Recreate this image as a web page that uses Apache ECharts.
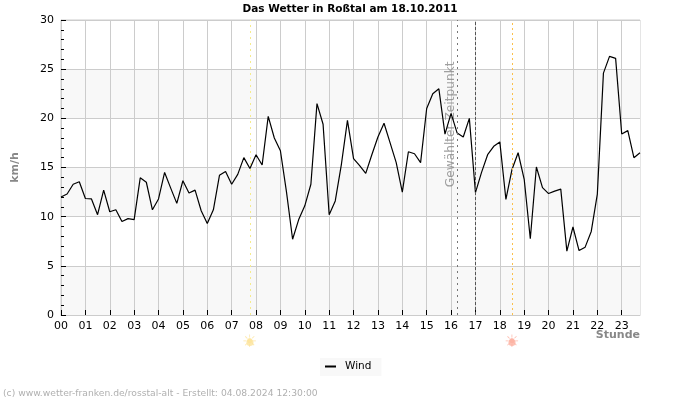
<!DOCTYPE html>
<html>
<head>
<meta charset="utf-8">
<style>
html, body { margin: 0; padding: 0; background: #fff; }
</style>
</head>
<body>
<div id="chart" style="width: 700px; height: 400px;"></div>
<script src="https://cdn.jsdelivr.net/npm/echarts@6/dist/echarts.min.js"></script>
<script>
const hours = ['00','01','02','03','04','05','06','07','08','09','10','11','12','13','14','15','16','17','18','19','20','21','22','23'];
const quarters = ['00','15','30','45'];
const wind = [
  12.0, 12.3, 13.3, 13.55, 11.85, 11.8, 10.2, 12.7,
  10.5, 10.7, 9.5, 9.8, 9.7, 13.95, 13.5, 10.7,
  11.8, 14.5, 12.9, 11.35, 13.65, 12.4, 12.7, 10.6,
  9.3, 10.7, 14.2, 14.6, 13.3, 14.3, 16.0, 14.9,
  16.3, 15.25, 20.2, 18.0, 16.7, 12.5, 7.7, 9.7,
  11.1, 13.3, 21.5, 19.4, 10.2, 11.6, 15.3, 19.8,
  15.9, 15.2, 14.4, 16.3, 18.1, 19.5, 17.5, 15.5,
  12.5, 16.6, 16.4, 15.5, 21.0, 22.5, 23.0, 18.4,
  20.5, 18.5, 18.1, 20.0, 12.45, 14.5, 16.3, 17.15,
  17.6, 11.75, 14.8, 16.5, 13.8, 7.75, 15.05, 12.95,
  12.35, 12.6, 12.8, 6.5, 8.95, 6.55, 6.9, 8.5,
  12.3, 24.6, 26.3, 26.1, 18.4, 18.75, 16.0, 16.5
];
const sunrise = '07:45';
const selected = '16:15';
const current = '17:00';
const sunset = '18:30';

const times = [];
hours.forEach((h) => quarters.forEach((q) => times.push(h + ':' + q)));

const fontName = '"DejaVu Sans"';
const myChart = echarts.init(document.getElementById('chart'), null, { renderer: 'canvas' });

const isFullHour = (index) => index % 4 === 0;

const vLine = (time, color, type) => ({
  xAxis: time,
  lineStyle: { color: color, type: type, width: 1 },
});

const option = {
  animation: false,
  backgroundColor: '#fff',
  textStyle: { fontFamily: fontName },
  title: [
    {
      text: 'Das Wetter in Roßtal am 18.10.2011',
      left: 350,
      top: 4,
      padding: 0,
      textAlign: 'center',
      textStyle: { fontFamily: fontName, fontSize: 10.5, fontWeight: 'bold', color: '#000' },
    },
    {
      text: '(c) www.wetter-franken.de/rosstal-alt - Erstellt: 04.08.2024 12:30:00',
      left: 3,
      top: 389,
      padding: 0,
      textStyle: { fontFamily: fontName, fontSize: 9.2, fontWeight: 'normal', color: '#b0b0b0' },
    },
  ],
  legend: {
    left: 320,
    top: 358,
    padding: [3, 10, 4, 5],
    backgroundColor: '#f8f8f8',
    itemWidth: 11,
    itemHeight: 2,
    itemGap: 0,
    icon: 'rect',
    data: ['Wind'],
    textStyle: { fontFamily: fontName, fontSize: 10.5, color: '#000', padding: [0, 0, 2, 4] },
  },
  grid: { left: 61, right: 60, top: 20, bottom: 85, show: true, borderColor: '#ccc', borderWidth: 1 },
  xAxis: {
    type: 'category',
    data: times,
    boundaryGap: false,
    name: 'Stunde',
    nameLocation: 'end',
    nameGap: 0,
    nameMoveOverlap: false,
    nameTextStyle: {
      fontFamily: fontName, fontSize: 11, fontWeight: 'bold', color: '#888',
      align: 'right', verticalAlign: 'top', padding: [15, 0, 0, 0],
    },
    axisLine: { show: true, lineStyle: { color: '#ccc' } },
    axisTick: { show: true, inside: true, length: 5, interval: isFullHour, lineStyle: { color: '#000' } },
    axisLabel: {
      interval: isFullHour,
      margin: 6,
      formatter: (v) => v.slice(0, 2),
      color: '#000',
      fontFamily: fontName,
      fontSize: 11,
    },
    splitLine: { show: true, interval: isFullHour, lineStyle: { color: '#ccc', width: 1 } },
  },
  yAxis: {
    type: 'value',
    min: 0,
    max: 30,
    interval: 5,
    name: 'km/h',
    nameLocation: 'middle',
    nameGap: 40,
    nameTextStyle: { fontFamily: fontName, fontSize: 11, fontWeight: 'bold', color: '#888' },
    axisLine: { show: true, lineStyle: { color: '#ccc' } },
    axisTick: { show: true, inside: true, length: 5, lineStyle: { color: '#000' } },
    minorTick: { show: true, splitNumber: 5, length: 3, lineStyle: { color: '#000' } },
    axisLabel: { margin: 7, color: '#000', fontFamily: fontName, fontSize: 11 },
    splitLine: { show: true, lineStyle: { color: '#ccc', width: 1 } },
    splitArea: { show: true, areaStyle: { color: ['#f8f8f8', '#fff'] } },
  },
  series: [
    {
      name: 'Wind',
      type: 'line',
      data: wind,
      showSymbol: false,
      lineStyle: { color: '#000', width: 1.2 },
      itemStyle: { color: '#000' },
      markLine: {
        silent: true,
        symbol: 'none',
        label: { show: false },
        data: [
          vLine(sunrise, '#f5eb8c', [2, 4]),
          vLine(selected, '#777', [2, 4]),
          vLine(current, '#555', [3, 2]),
          vLine(sunset, '#fdc04a', [2, 3]),
        ],
      },
      z: 3,
    },
    {
      // Sonnenauf- und -untergang unterhalb der Achse
      name: 'Sonne',
      type: 'scatter',
      clip: false,
      symbol: 'circle',
      symbolSize: 7,
      silent: true,
      data: [
        { value: [sunrise, -2.8], itemStyle: { color: '#fde49a' }, label: { color: '#fde49a' } },
        { value: [sunset, -2.8], itemStyle: { color: '#fdb0a0' }, label: { color: '#fdb0a0' } },
      ],
      label: {
        show: true,
        position: 'inside',
        formatter: '☀',
        fontFamily: fontName,
        fontSize: 17,
      },
    },
    {
      // Beschriftung des gewaehlten Zeitpunkts
      name: 'Zeitpunkt',
      type: 'scatter',
      clip: false,
      symbolSize: 0,
      silent: true,
      data: [['16:00', 20.0]],
      label: {
        show: true,
        position: 'inside',
        rotate: 90,
        offset: [-6, 0],
        formatter: 'Gewählter Zeitpunkt',
        fontFamily: fontName,
        fontSize: 12.2,
        color: '#888',
      },
    },
  ],
};

myChart.setOption(option);
</script>
</body>
</html>
